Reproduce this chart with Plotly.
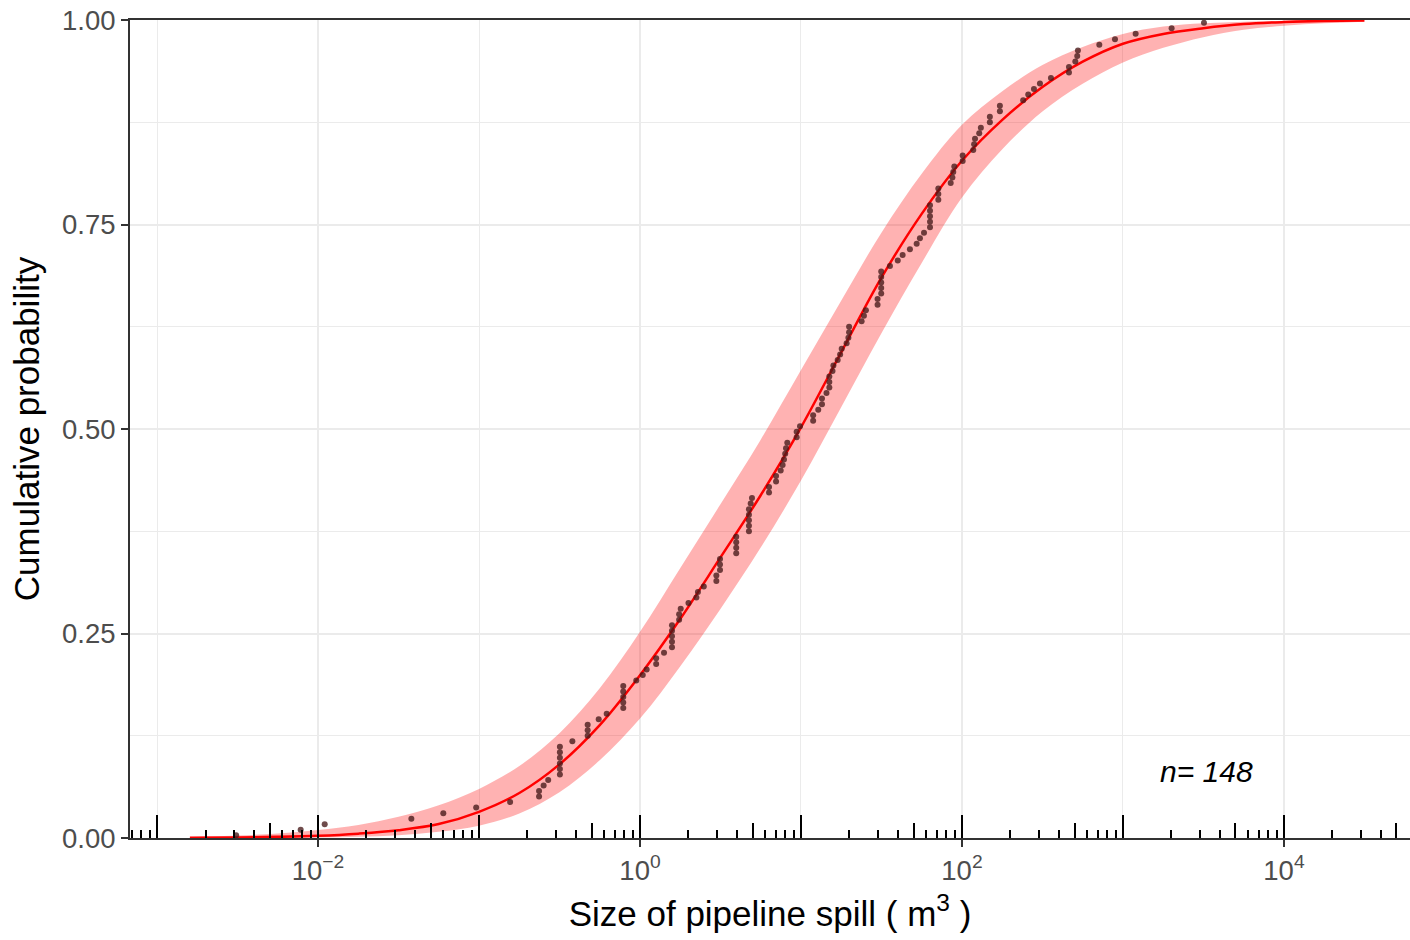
import math
import plotly.graph_objects as go

# ---------------- data ----------------
# observed pipeline spill sizes (m^3), sorted
spill_m3 = [
    0.0031, 0.0078, 0.011, 0.038, 0.060, 0.096, 0.156, 0.236, 0.236, 0.252,
    0.269, 0.318, 0.318, 0.318, 0.318, 0.318, 0.318, 0.38, 0.473, 0.473,
    0.473, 0.554, 0.621, 0.787, 0.787, 0.787, 0.787, 0.787, 0.948, 1.04,
    1.10, 1.26, 1.26, 1.41, 1.58, 1.58, 1.58, 1.58, 1.58, 1.75,
    1.75, 1.79, 2.0, 2.24, 2.29, 2.49, 2.98, 2.98, 3.14, 3.14,
    3.14, 3.96, 3.96, 3.96, 3.96, 4.75, 4.75, 4.75, 4.75, 4.75,
    4.87, 4.96, 6.33, 6.33, 7.0, 7.0, 7.48, 7.69, 7.84, 7.98,
    8.07, 8.22, 9.4, 9.4, 9.86, 11.9, 11.9, 12.8, 13.5, 13.5,
    14.4, 15.0, 15.0, 15.0, 15.7, 15.9, 16.9, 17.5, 17.9, 19.2,
    19.7, 19.9, 19.9, 23.8, 24.6, 25.3, 29.9, 29.9, 31.5, 31.5,
    31.5, 31.5, 31.5, 35.7, 39.9, 42.8, 47.5, 52.3, 54.8, 58.1,
    63.3, 63.3, 63.3, 63.3, 63.3, 71.3, 71.3, 71.3, 85.1, 87.2,
    88.3, 89.6, 101, 101, 117.5, 119, 120.5, 128, 131, 149,
    149, 172, 172, 240, 258, 280, 305, 357, 462, 462,
    506, 520, 525, 713, 892, 1199, 2005, 3186,
]

# fitted cumulative curve and its confidence band, read at quarter decades
fit_x = [0.0016, 0.00316, 0.00562, 0.01, 0.0178, 0.0316, 0.0562, 0.1, 0.178, 0.316,
         0.562, 1, 1.78, 3.16, 5.62, 10, 17.8, 31.6, 56.2, 100,
         178, 316, 562, 1000, 1780, 3160, 5620, 10000, 17800, 31600]
fit_p = [0.0002, 0.0007, 0.0014, 0.0027, 0.0053, 0.0095, 0.017, 0.032, 0.055, 0.09,
         0.138, 0.199, 0.268, 0.343, 0.419, 0.502, 0.594, 0.685, 0.763, 0.828,
         0.878, 0.918, 0.949, 0.971, 0.983, 0.990, 0.995, 0.9975, 0.9989, 0.9995]
fit_lo = [0.0, 0.0001, 0.0003, 0.0006, 0.0015, 0.0035, 0.0075, 0.015, 0.030, 0.056,
          0.095, 0.146, 0.21, 0.28, 0.355, 0.437, 0.527, 0.617, 0.703, 0.783,
          0.842, 0.888, 0.922, 0.948, 0.966, 0.979, 0.988, 0.993, 0.996, 0.998]
fit_hi = [0.0012, 0.003, 0.0055, 0.0098, 0.016, 0.026, 0.040, 0.060, 0.088, 0.128,
          0.183, 0.252, 0.33, 0.408, 0.487, 0.572, 0.657, 0.74, 0.812, 0.872,
          0.913, 0.945, 0.967, 0.983, 0.992, 0.996, 0.998, 0.9992, 0.9997, 0.9999]

y_ticks = [0.0, 0.25, 0.50, 0.75, 1.0]
y_ticktext = ["0.00", "0.25", "0.50", "0.75", "1.00"]
y_minor = [0.125, 0.375, 0.625, 0.875]
x_ticks = [1e-2, 1e0, 1e2, 1e4]
x_ticktext = ["10<sup>\u22122</sup>", "10<sup>0</sup>", "10<sup>2</sup>", "10<sup>4</sup>"]
x_minor = [1e-3, 1e-1, 1e1, 1e3]
n_label = "n= 148"
n_label_pos = (3280, 0.081)

x_range_log = [-3.168, 4.783]

# log-tick annotation positions (annotation_logticks style)
decades = list(range(-4, 5))
tick_decade = [10.0 ** d for d in decades]
tick_five = [5 * 10.0 ** d for d in decades]
tick_small = [m * 10.0 ** d for d in decades for m in (2, 3, 4, 6, 7, 8, 9)]

# ECDF of observations (plotting positions (i-0.5)/n)
xs = sorted(spill_m3)
n = len(xs)
ys = [(i + 0.5) / n for i in range(n)]

FONT = "Liberation Sans, Arial, Helvetica, sans-serif"

fig = go.Figure()
fig.add_trace(go.Scatter(x=fit_x, y=fit_lo, mode="lines",
                         line=dict(width=0, shape="spline", color="rgba(255,0,0,0)"),
                         hoverinfo="skip", showlegend=False))
fig.add_trace(go.Scatter(x=fit_x, y=fit_hi, mode="lines",
                         line=dict(width=0, shape="spline", color="rgba(255,0,0,0)"),
                         fill="tonexty", fillcolor="rgba(255,0,0,0.3)",
                         hoverinfo="skip", showlegend=False))
fig.add_trace(go.Scatter(x=fit_x, y=fit_p, mode="lines",
                         line=dict(width=2.5, shape="spline", color="#FF0000"),
                         hoverinfo="skip", showlegend=False))
fig.add_trace(go.Scatter(x=xs, y=ys, mode="markers",
                         marker=dict(size=6, color="rgba(70,25,25,0.78)", line=dict(width=0)),
                         hoverinfo="skip", showlegend=False))
# invisible traces so the overlay tick axes are drawn
for ax in ("x2", "x3"):
    fig.add_trace(go.Scatter(x=[1], y=[0.5], xaxis=ax, yaxis="y", mode="markers",
                             marker=dict(opacity=0), hoverinfo="skip", showlegend=False))

fig.add_annotation(x=math.log10(n_label_pos[0]), y=n_label_pos[1], xref="x", yref="y",
                   text="<i>" + n_label + "</i>", showarrow=False,
                   font=dict(family=FONT, size=30, color="black"))

fig.update_layout(
    width=1410, height=940,
    margin=dict(l=130, r=0, t=20, b=102),
    paper_bgcolor="white", plot_bgcolor="white",
    font=dict(family=FONT),
    hovermode=False,
    xaxis=dict(
        type="log", range=x_range_log, tickmode="array", tickvals=x_ticks, ticktext=x_ticktext,
        ticks="outside", ticklen=7, tickwidth=2, tickcolor="#333333",
        showline=True, linecolor="#333333", linewidth=2, mirror=True,
        showgrid=True, gridcolor="#EBEBEB", gridwidth=2, zeroline=False,
        minor=dict(tickvals=x_minor, ticks="", showgrid=True, gridcolor="#EBEBEB", gridwidth=1),
        tickfont=dict(family=FONT, size=27.5, color="#4D4D4D"),
        ticklabeloverflow="allow",
        title=dict(text="Size of pipeline spill ( m<sup>3</sup> )",
                   font=dict(family=FONT, size=35, color="black"), standoff=16),
        automargin=False,
    ),
    xaxis2=dict(
        type="log", range=x_range_log, overlaying="x", anchor="y", side="bottom",
        tickmode="array", tickvals=tick_decade, ticks="inside", ticklen=23, tickwidth=2,
        tickcolor="black", showticklabels=False, showgrid=False, showline=False, zeroline=False,
        minor=dict(tickvals=tick_five, ticks="inside", ticklen=15, tickwidth=2,
                   tickcolor="black", showgrid=False),
        automargin=False,
    ),
    xaxis3=dict(
        type="log", range=x_range_log, overlaying="x", anchor="y", side="bottom",
        tickmode="array", tickvals=tick_small, ticks="inside", ticklen=8, tickwidth=2,
        tickcolor="black", showticklabels=False, showgrid=False, showline=False, zeroline=False,
        automargin=False,
    ),
    yaxis=dict(
        range=[0, 1], tickmode="array", tickvals=y_ticks, ticktext=y_ticktext,
        ticks="outside", ticklen=7, tickwidth=2, tickcolor="#333333",
        showline=True, linecolor="#333333", linewidth=2,
        showgrid=True, gridcolor="#EBEBEB", gridwidth=2, zeroline=False,
        minor=dict(tickvals=y_minor, ticks="", showgrid=True, gridcolor="#EBEBEB", gridwidth=1),
        tickfont=dict(family=FONT, size=27.5, color="#4D4D4D"),
        ticklabeloverflow="allow",
        title=dict(text="Cumulative probability",
                   font=dict(family=FONT, size=35, color="black"), standoff=12),
        automargin=False,
    ),
)

# place the 1410x940 figure flush with the page corner (no default body margin)
fig.write_html(
    "out.html",
    config={"displayModeBar": False},
    post_script="document.body.style.margin='0';document.body.style.overflow='hidden';",
)
